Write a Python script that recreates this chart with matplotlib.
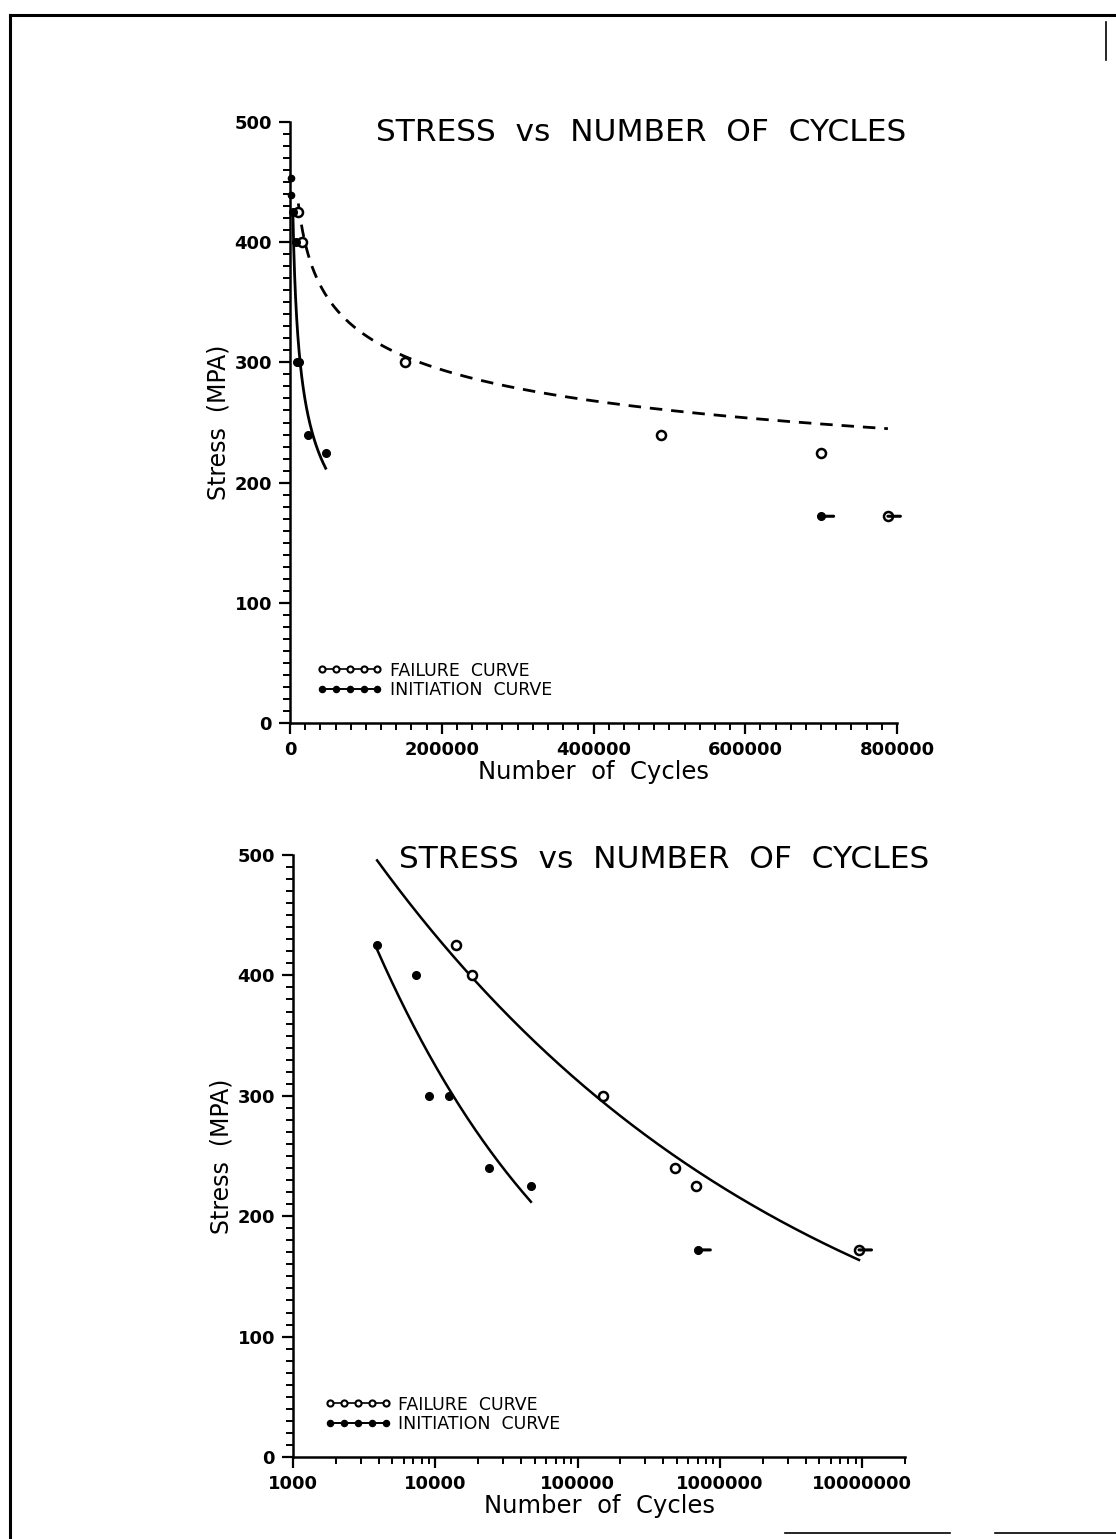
import numpy as np
import matplotlib
matplotlib.use("Agg")
import matplotlib.pyplot as plt
from matplotlib.lines import Line2D
from matplotlib.ticker import MultipleLocator, LogLocator, FuncFormatter, NullFormatter

# ---------------- data ----------------
failure_stress = [425, 400, 300, 240, 225, 172]
failure_cycles_top = [11000, 16000, 151000, 489000, 700000, 788000]
failure_cycles_log = [14000, 18000, 150000, 480000, 680000, 9500000]
failure_runout = [False, False, False, False, False, True]

initiation_stress = [425, 400, 300, 300, 240, 225, 172]
initiation_cycles = [3900, 7300, 9000, 12500, 24000, 47000, 700000]
initiation_runout = [False, False, False, False, False, False, True]

top_extra_cycles = [700, 900]
top_extra_stress = [453, 439]

# dashed failure curve of the upper chart: S = coef * N ** exp
dash_coef = 1490.0
dash_exp = -0.133

title_text = "STRESS  vs  NUMBER  OF  CYCLES"
xlabel_text = "Number  of  Cycles"
ylabel_text = "Stress  (MPA)"
legend_labels = ["FAILURE  CURVE", "INITIATION  CURVE"]

# ---------------- helpers ----------------
plt.rcParams["font.family"] = ["DejaVu Sans"]

def powerfit(n, s):
    b, a = np.polyfit(np.log10(n), np.log10(s), 1)
    return a, b

def curve(a, b, n0, n1):
    n = np.geomspace(n0, n1, 400)
    return n, 10 ** (a + b * np.log10(n))

fig = plt.figure(figsize=(11.16, 15.39), dpi=100)

W, H = 1116.0, 1539.0
def axrect(l, t, r, b):
    return [l / W, 1 - b / H, (r - l) / W, (b - t) / H]

ax1 = fig.add_axes(axrect(290, 122, 897, 723))
ax2 = fig.add_axes(axrect(293, 855, 905, 1457))

init_n = np.array(initiation_cycles, float)
init_s = np.array(initiation_stress, float)
init_fit_mask = ~np.array(initiation_runout)
ia, ib = powerfit(init_n[init_fit_mask], init_s[init_fit_mask])

fail_n_log = np.array(failure_cycles_log, float)
fail_n_top = np.array(failure_cycles_top, float)
fail_s = np.array(failure_stress, float)
fa, fb = powerfit(fail_n_log, fail_s)

def style_axes(ax):
    for sp in ["top", "right"]:
        ax.spines[sp].set_visible(False)
    for sp in ["left", "bottom"]:
        ax.spines[sp].set_linewidth(1.8)
    ax.set_ylim(0, 500)
    ax.yaxis.set_major_locator(MultipleLocator(100))
    ax.yaxis.set_minor_locator(MultipleLocator(10))
    ax.tick_params(which="major", direction="out", length=8, width=1.6,
                   labelsize=13, pad=5)
    ax.tick_params(which="minor", direction="out", length=5, width=1.4)
    for lab in ax.get_xticklabels() + ax.get_yticklabels():
        lab.set_fontweight("bold")
    ax.set_xlabel(xlabel_text, fontsize=17.5, labelpad=1)
    ax.set_ylabel(ylabel_text, fontsize=17, labelpad=3)
    ax.patch.set_alpha(0)

def runout_tail(ax, x, y):
    ax.annotate("", xy=(x, y), xytext=(9, 0), textcoords="offset points",
                arrowprops=dict(arrowstyle="-", lw=2.2, color="black",
                                shrinkA=0, shrinkB=0))

def draw_legend(ax, x, y):
    h1 = Line2D([], [], color="black", lw=1.2, marker="o", ms=4.4,
                mfc="white", mec="black", mew=1.5)
    h2 = Line2D([], [], color="black", lw=1.4, marker="o", ms=4.4,
                mfc="black", mec="black")
    leg = ax.legend([h1, h2], legend_labels, loc="lower left",
                    bbox_to_anchor=(x, y), frameon=False, numpoints=5,
                    handlelength=3.8, handletextpad=0.4, labelspacing=0.08,
                    borderpad=0, borderaxespad=0,
                    prop={"size": 12.5, "weight": "medium"})
    return leg

# ---------------- upper chart (linear) ----------------
n, s = curve(ia, ib, init_n[init_fit_mask].min(), init_n[init_fit_mask].max())
ax1.plot(n, s, color="black", lw=2.0)
nd = np.geomspace(fail_n_top.min(), fail_n_top.max(), 400)
ax1.plot(nd, dash_coef * nd ** dash_exp, color="black", lw=2.0,
         dashes=(4.5, 3.2))
ax1.plot(fail_n_top, fail_s, "o", ms=6.5, mfc="white", mec="black", mew=1.8,
         clip_on=False)
ax1.plot(init_n, init_s, "o", ms=5.5, mfc="black", mec="black", clip_on=False)
ax1.plot(top_extra_cycles, top_extra_stress, "o", ms=4.5, mfc="black",
         mec="black", clip_on=False)
for x, y, r in zip(fail_n_top, fail_s, failure_runout):
    if r:
        runout_tail(ax1, x, y)
for x, y, r in zip(init_n, init_s, initiation_runout):
    if r:
        runout_tail(ax1, x, y)
ax1.set_xlim(0, 800000)
ax1.xaxis.set_major_locator(MultipleLocator(200000))
ax1.xaxis.set_minor_locator(MultipleLocator(20000))
ax1.xaxis.set_major_formatter(FuncFormatter(lambda v, p: f"{int(round(v))}"))
style_axes(ax1)
ax1.text(0.579, 0.982, title_text, transform=ax1.transAxes, ha="center",
         va="center", fontsize=22.5)
draw_legend(ax1, 0.044, 0.040)

# ---------------- lower chart (log x) ----------------
n, s = curve(ia, ib, init_n[init_fit_mask].min(), init_n[init_fit_mask].max())
ax2.plot(n, s, color="black", lw=1.8)
n, s = curve(fa, fb, init_n.min(), fail_n_log.max())
ax2.plot(n, s, color="black", lw=1.8)
ax2.plot(fail_n_log, fail_s, "o", ms=6.5, mfc="white", mec="black", mew=1.8)
ax2.plot(init_n, init_s, "o", ms=5.5, mfc="black", mec="black")
for x, y, r in zip(fail_n_log, fail_s, failure_runout):
    if r:
        runout_tail(ax2, x, y)
for x, y, r in zip(init_n, init_s, initiation_runout):
    if r:
        runout_tail(ax2, x, y)
ax2.set_xscale("log")
ax2.set_xlim(1000, 2e7)
ax2.xaxis.set_major_locator(LogLocator(base=10, numticks=20))
ax2.xaxis.set_minor_locator(LogLocator(base=10, subs=np.arange(2, 10), numticks=50))
ax2.xaxis.set_major_formatter(FuncFormatter(lambda v, p: f"{int(round(v))}"))
ax2.xaxis.set_minor_formatter(NullFormatter())
style_axes(ax2)
ax2.text(0.606, 0.992, title_text, transform=ax2.transAxes, ha="center",
         va="center", fontsize=22.5)
draw_legend(ax2, 0.052, 0.040)

# ---------------- page border (scan frame) ----------------
def fline(x0, y0, x1, y1, lw=2.2):
    fig.add_artist(Line2D([x0 / W, x1 / W], [1 - y0 / H, 1 - y1 / H],
                          color="black", lw=lw, transform=fig.transFigure))

fline(10, 15, 1116, 15)
fline(10, 15, 10, 1539)
fline(1106, 22, 1106, 60, lw=1.2)
fline(785, 1533, 950, 1533, lw=1.2)
fline(995, 1533, 1116, 1533, lw=1.2)

fig.savefig("out.png", dpi=100, facecolor="white")
